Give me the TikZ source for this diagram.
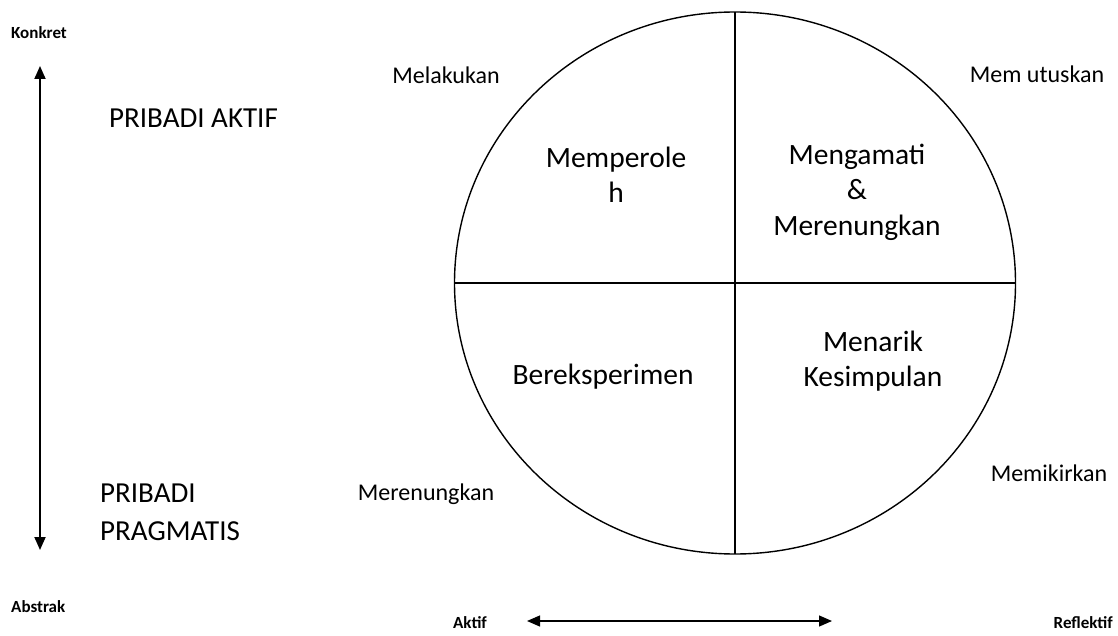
\documentclass[tikz,border=0pt]{standalone}
\usepackage{fontspec}
\setmainfont{Carlito}
\usetikzlibrary{arrows.meta,shapes.geometric}
\begin{document}
\begin{tikzpicture}[x=1pt,y=-1pt,
  quad/.style={font=\fontsize{29.5}{35.5}\selectfont, align=center, inner sep=0pt},
  lbl/.style={font=\fontsize{24}{28}\selectfont, inner sep=0pt},
  pers/.style={font=\fontsize{29}{38}\selectfont, inner sep=0pt, align=left},
  axl/.style={font=\bfseries\fontsize{17}{20}\selectfont, inner sep=0pt},
  axis/.style={line width=1.8pt, {Triangle[width=11pt,length=13pt]}-{Triangle[width=11pt,length=13pt]}},
  rim/.style={line width=1.4pt}]
\useasboundingbox (0,0) rectangle (1118,636);
% circle and quadrant lines
\node[draw, rim, ellipse, minimum width=561pt, minimum height=542pt, inner sep=0pt] (c) at (735,283) {};
\coordinate (ct) at (735,12);
\coordinate (cb) at (735,554);
\coordinate (cl) at (455,283);
\coordinate (cr) at (1015,283);
\draw[rim] (ct) -- (cb);
\draw[rim] (cl) -- (cr);
% vertical axis
\node[axl, anchor=west] (konkret) at (11,33) {Konkret};
\node[axl, anchor=west] (abstrak) at (11,607) {Abstrak};
\coordinate (vt) at (40,66);
\coordinate (vb) at (40,550);
\draw[axis] (vb) -- (vt);
% horizontal axis
\node[axl] (aktif) at (470,623) {Aktif};
\node[axl, anchor=east] (reflektif) at (1113,623) {Reflektif};
\coordinate (hl) at (527,621);
\coordinate (hr) at (832,621);
\draw[axis, line width=1.2pt] (hl) -- (hr);
% personalities
\node[pers, anchor=west] (aktifp) at (109,118) {PRIBADI AKTIF};
\node[pers, anchor=west] (prag) at (100,512) {PRIBADI\\PRAGMATIS};
% outer labels
\node[lbl] (melakukan) at (446,75) {Melakukan};
\node[lbl] (memutuskan) at (1037,74) {Mem utuskan};
\node[lbl] (merenungkan) at (426,494) {Merenungkan};
\node[lbl] (memikirkan) at (1049,473) {Memikirkan};
% quadrants
\node[quad] (q1) at (616,175) {Memperole\\h};
\node[quad] (q2) at (857,192) {Mengamati\\\&\\Merenungkan};
\node[quad] (q3) at (603,377) {Bereksperimen};
\node[quad] (q4) at (873,361) {Menarik\\Kesimpulan};
\end{tikzpicture}
\end{document}
